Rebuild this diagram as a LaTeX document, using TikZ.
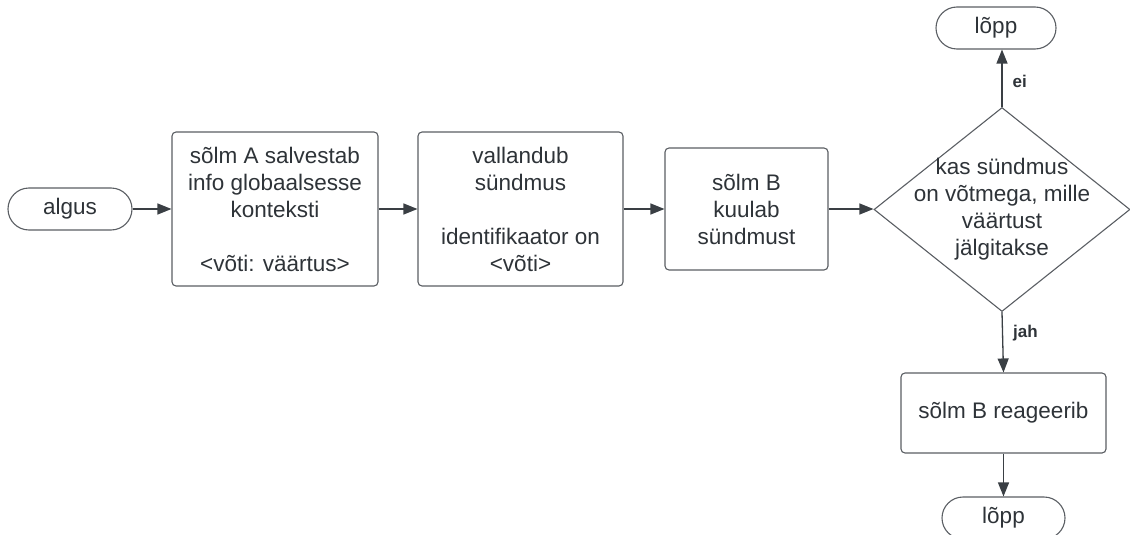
\documentclass[tikz,border=0pt]{standalone}
\usepackage{fontspec}
\setmainfont{Liberation Sans}
\usetikzlibrary{shapes.geometric,arrows.meta}
\definecolor{ink}{HTML}{2E3338}
\definecolor{edge}{HTML}{5A5E63}
\definecolor{conn}{HTML}{3A3F44}

\begin{document}
\begin{tikzpicture}[x=1pt,y=-1pt,
  base/.style={draw=edge, line width=1.1pt, text=ink,
    font=\fontsize{22.5}{27}\selectfont, align=center, inner sep=0pt},
  terminal/.style={base, rectangle, rounded corners=21pt, minimum height=42pt},
  process/.style={base, rectangle, rounded corners=4pt},
  decision/.style={base, diamond, minimum width=256pt, minimum height=204pt},
  flow/.style={draw=conn, line width=1.3pt, -{Triangle[length=14pt,width=11pt]}},
  tag/.style={text=ink, font=\fontsize{17}{20}\selectfont\bfseries, inner sep=0pt}
]
\useasboundingbox (0,0) rectangle (1130,535);

% main row
\node[terminal, minimum width=124pt] (start) at (70,209) {algus};
\node[process, minimum width=206pt, minimum height=154pt] (save) at (275,209)
  {sõlm A salvestab\\info globaalsesse\\konteksti\\[27pt]<võti: väärtus>};
\node[process, minimum width=205pt, minimum height=154pt] (trig) at (520.5,209)
  {vallandub\\sündmus\\[27pt]identifikaator on\\<võti>};
\node[process, minimum width=163pt, minimum height=122pt] (listen) at (746.5,209)
  {sõlm B\\kuulab\\sündmust};
\node[decision, label={[text=ink, font=\fontsize{22.5}{27}\selectfont, align=center]center:{kas sündmus\\on võtmega, mille\\väärtust\\jälgitakse}}]
  (dec) at (1002,209.5) {};

% right column
\node[terminal, minimum width=120pt] (endtop) at (996,28) {lõpp};
\node[process, minimum width=205pt, minimum height=80pt] (react) at (1003.5,413) {sõlm B reageerib};
\node[terminal, minimum width=123pt] (endbot) at (1003.5,518) {lõpp};

% connectors
\draw[flow] (start) -- (save);
\draw[flow] (save) -- (trig);
\draw[flow] (trig) -- (listen);
\draw[flow] (listen.east) -- (listen.east -| dec.west);
\draw[flow] (dec.north) -- (dec.north |- endtop.south)
  node[tag, pos=0.45, right=10pt] {ei};
\draw[flow] (dec.south) -- (react.north)
  node[tag, pos=0.35, right=10pt] {jah};
\draw[flow] (react.south) -- (react.south |- endbot.north);
\end{tikzpicture}
\end{document}
